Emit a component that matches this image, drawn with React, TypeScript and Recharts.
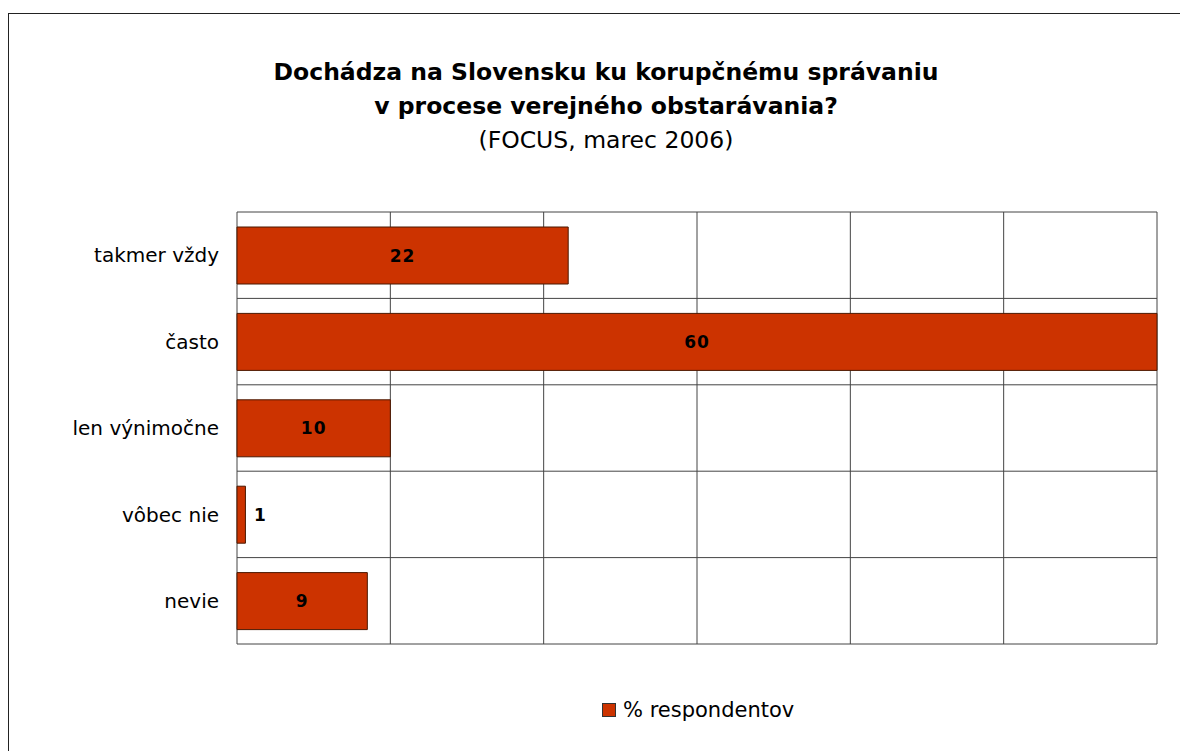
import { BarChart, Bar, XAxis, YAxis, CartesianGrid, LabelList } from "recharts";

// ─── Data ─────────────────────────────────────────────────────────────────────

const categories = ["takmer vždy", "často", "len výnimočne", "vôbec nie", "nevie"];
// bar lengths; the printed labels are rounded
const respondents = [21.6, 60, 10, 0.55, 8.5];
const xTicks = [0, 10, 20, 30, 40, 50, 60];

const seriesName = "% respondentov";
const titleLines = [
  "Dochádza na Slovensku ku korupčnému správaniu",
  "v procese verejného obstarávania?",
];
const subtitle = "(FOCUS, marec 2006)";

const data = categories.map((c, i) => ({ name: c, value: respondents[i] }));

const FONT = '"DejaVu Sans", sans-serif';
const BAR_FILL = "#CC3300";

// ─── Bar value label ──────────────────────────────────────────────────────────

function ValueLabel(props: any) {
  const { x, y, width, height, value } = props;
  const inside = width > 30;
  const cx = inside ? x + width / 2 : x + width + 15;
  return (
    <text
      x={cx}
      y={y + height / 2}
      textAnchor="middle"
      dominantBaseline="central"
      fontFamily={FONT}
      fontWeight="bold"
      fontSize={17}
      letterSpacing={1}
      fill="#000"
    >
      {Math.round(value)}
    </text>
  );
}

// ─── Component ────────────────────────────────────────────────────────────────

export default function App() {
  return (
    <div style={{ position: "relative", width: 1180, height: 743, overflow: "hidden", background: "#fff" }}>
      {/* outer frame (only left/top edges visible) */}
      <div
        style={{
          position: "absolute",
          left: 0,
          top: 5,
          width: 1300,
          height: 900,
          borderLeft: "1.5px solid #222",
          borderTop: "1.5px solid #222",
        }}
      />

      {/* Title */}
      <div
        style={{
          position: "absolute",
          left: 0,
          top: 47,
          width: 1196,
          textAlign: "center",
          fontFamily: FONT,
          color: "#000",
          fontSize: 23.5,
          lineHeight: "34px",
        }}
      >
        {titleLines.map((t) => (
          <div key={t} style={{ fontWeight: "bold" }}>{t}</div>
        ))}
        <div>{subtitle}</div>
      </div>

      <div style={{ position: "absolute", left: 0, top: 0 }}>
        <BarChart
          width={1180}
          height={743}
          data={data}
          layout="vertical"
          margin={{ top: 204, right: 31, bottom: 107, left: 0 }}
          barSize={57}
        >
          <CartesianGrid
            stroke="#444"
            strokeWidth={1}
            fill="#fff"
            horizontalCoordinatesGenerator={({ offset }: any) =>
              [...categories.map((_, i) => offset.top + (i * offset.height) / categories.length), offset.top + offset.height]
            }
          />
          <XAxis type="number" domain={[0, 60]} ticks={xTicks} hide />
          <YAxis
            type="category"
            dataKey="name"
            width={229}
            axisLine={false}
            tickLine={false}
            tickMargin={12}
            tick={{ fill: "#000", fontSize: 20, fontFamily: FONT }}
          />
          <Bar dataKey="value" name={seriesName} fill={BAR_FILL} stroke="#4a1800" strokeWidth={1} isAnimationActive={false}>
            <LabelList dataKey="value" content={<ValueLabel />} />
          </Bar>
        </BarChart>
      </div>

      {/* Legend */}
      <div style={{ position: "absolute", left: 594, top: 690, display: "flex", alignItems: "center", gap: 7 }}>
        <span style={{ width: 12, height: 12, background: BAR_FILL, border: "1px solid #333", display: "inline-block" }} />
        <span style={{ fontFamily: FONT, fontSize: 21, color: "#000" }}>{seriesName}</span>
      </div>
    </div>
  );
}
